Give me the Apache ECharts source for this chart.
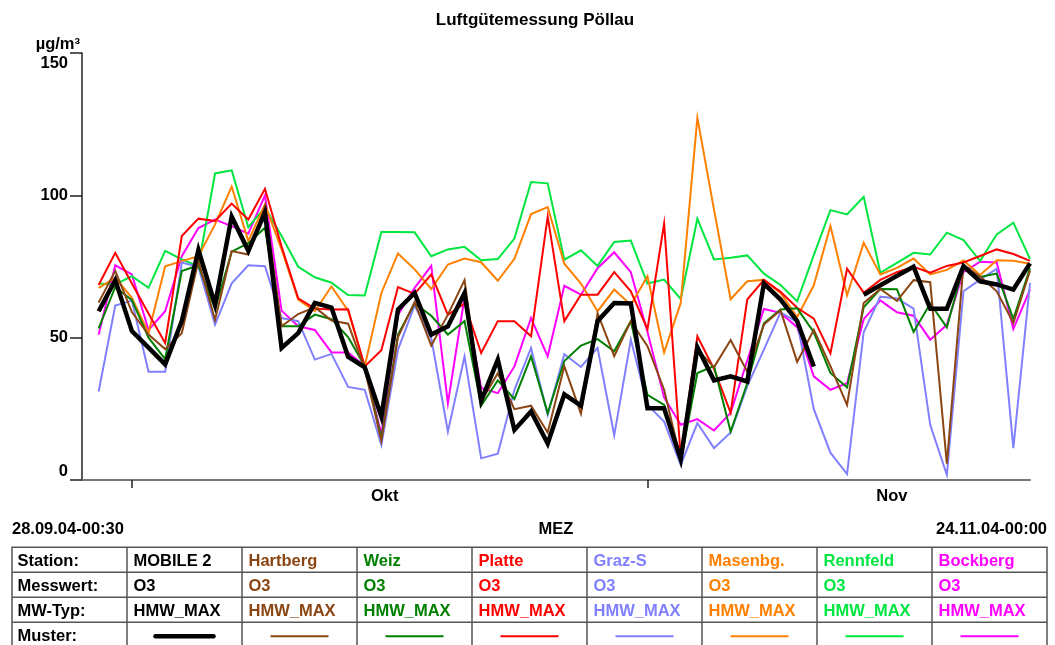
<!DOCTYPE html>
<html>
<head>
<meta charset="utf-8">
<title>Luftgütemessung Pöllau</title>
<script src="https://cdn.jsdelivr.net/npm/echarts@6/dist/echarts.min.js"></script>
<style>
  html, body { margin: 0; padding: 0; background: #ffffff; }
  #chart { width: 1055px; height: 645px; }
</style>
</head>
<body>
<div id="chart"></div>
<script>
// x positions: days counted from 28.09.04 00:00, each daily maximum sits at the end of its day
const dayNo = [1, 2, 3, 4, 5, 6, 7, 8, 9, 10, 11, 12, 13, 14, 15, 16, 17, 18, 19, 20,
  21, 22, 23, 24, 25, 26, 27, 28, 29, 30, 31, 32, 33, 34, 35, 36, 37, 38, 39, 40,
  41, 42, 43, 44, 45, 46, 47, 48, 49, 50, 51, 52, 53, 54, 55, 56, 57];
const monthStartDays = [3, 34];          // 01.10. and 01.11.
const monthLabelDays = [18.2, 48.7];
const monthNames = ['Okt', 'Nov'];
const yMax = 150;
const yStep = 50;

const stations = ['MOBILE 2', 'Hartberg', 'Weiz', 'Platte', 'Graz-S', 'Masenbg.', 'Rennfeld', 'Bockberg'];
const stationColors = ['#000000', '#8B4513', '#008000', '#FF0000', '#8080FF', '#FF8000', '#00E640', '#FF00FF'];
const messwert = 'O3';
const mwTyp = 'HMW_MAX';
const rowLabels = ['Station:', 'Messwert:', 'MW-Typ:', 'Muster:'];

// O3 half-hour maxima per day, µg/m³
const mobile2 = [59.3, 70.2, 52.3, 46.5, 40.6, 55.8, 80.8, 61.6, 92.5, 80.5,
  93.9, 46.4, 51.6, 62.2, 60.6, 43.3, 39.6, 22.3, 59.9, 65.7,
  51.1, 54.0, 65.7, 27.8, 42.3, 17.6, 24.1, 12.8, 30.1, 26.1,
  55.8, 62.2, 62.0, 25.2, 25.2, 7.3, 46.6, 35.0, 36.4, 34.6,
  69.0, 63.4, 55.8, 39.9, null, null, 65.1, 68.4, 71.7, 74.9,
  60.2, 60.2, 75.1, 69.8, 68.7, 66.9, 76.1];
const hartberg = [62.3, 73.5, 59.0, 51.1, 46.0, 51.6, 77.0, 56.3, 80.4, 79.2,
  96.2, 54.0, 58.3, 60.7, 56.0, 54.9, 39.0, 13.8, 50.2, 62.5,
  47.2, 58.1, 70.2, 27.6, 37.5, 24.9, 26.1, 16.7, 40.0, 23.3,
  58.6, 43.5, 55.8, 47.0, 31.7, 7.0, 45.8, 39.6, 49.2, 38.0,
  54.6, 59.6, 41.5, 52.8, 40.0, 26.4, 62.2, 67.1, 62.9, 70.2,
  69.5, 5.7, 75.5, 71.5, 66.3, 55.2, 73.5];
const weiz = [53.3, 67.8, 63.2, 50.0, 42.5, 73.4, 75.4, 60.0, 80.2, 83.2,
  88.6, 54.0, 54.0, 58.1, 56.5, 50.2, 40.0, 14.7, 51.1, 62.0,
  57.7, 51.1, 55.8, 26.1, 35.0, 28.4, 43.4, 23.5, 41.8, 47.2,
  49.5, 45.2, 55.8, 29.9, 26.4, 6.5, 37.6, 40.0, 17.0, 34.0,
  55.0, 59.9, 60.3, 51.9, 37.6, 32.5, 60.7, 67.1, 67.0, 52.0,
  62.0, 53.6, 75.1, 71.3, 72.5, 56.6, 74.4];
const platte = [68.5, 79.8, 69.0, 58.5, 48.1, 85.7, 91.8, 91.0, 97.1, 91.5,
  102.3, 82.0, 63.8, 60.2, 59.9, 60.0, 39.9, 45.6, 67.8, 65.4,
  72.2, 58.0, 62.0, 44.6, 55.8, 55.8, 50.5, 92.5, 55.8, 65.1,
  65.1, 73.0, 66.3, 53.0, 90.1, 8.0, 50.5, 39.0, 23.6, 63.4,
  70.3, 66.1, 60.5, 56.7, 44.5, 74.2, 65.8, 70.3, 73.0, 74.9,
  72.8, 75.2, 76.4, 78.7, 81.0, 79.4, 77.0];
const grazS = [31.1, 61.3, 63.0, 38.0, 38.0, 76.4, 74.8, 54.6, 69.1, 75.4,
  75.1, 56.9, 55.8, 42.3, 44.3, 32.7, 31.7, 12.3, 45.8, 61.3,
  49.9, 17.0, 43.4, 7.6, 9.2, 31.7, 46.4, 22.9, 44.2, 39.7,
  46.4, 15.7, 49.3, 26.4, 20.5, 5.3, 20.0, 11.2, 16.7, 33.0,
  45.8, 58.9, 55.5, 24.9, 9.6, 2.1, 51.9, 64.4, 63.8, 60.2,
  19.4, 1.8, 66.3, 70.4, 74.2, 11.2, 69.2];
const masenbg = [67.5, 71.0, 64.0, 51.6, 75.1, 76.9, 78.6, 89.8, 103.1, 83.9,
  96.8, 81.0, 63.4, 59.3, 68.0, 59.5, 39.9, 65.7, 79.6, 74.0,
  67.1, 75.7, 77.8, 76.5, 70.0, 77.7, 93.4, 95.9, 76.0, 69.0,
  59.3, 66.9, 61.5, 71.6, 44.8, 62.2, 127.3, 95.0, 63.5, 69.8,
  70.3, 65.7, 57.2, 68.4, 89.2, 64.9, 83.3, 72.2, 74.5, 77.8,
  72.2, 73.8, 77.1, 72.0, 77.2, 77.0, 76.0];
const rennfeld = [69.0, 68.7, 71.6, 67.5, 80.5, 77.5, 75.1, 107.7, 108.8, 88.8,
  95.7, 85.7, 74.9, 71.2, 69.3, 65.0, 64.8, 87.1, 87.1, 87.0,
  78.6, 81.0, 81.9, 77.2, 77.6, 84.8, 104.7, 104.2, 77.4, 80.7,
  75.2, 83.6, 84.1, 69.0, 70.4, 63.6, 91.8, 77.5, 78.1, 78.9,
  72.5, 68.5, 62.8, 79.0, 94.8, 93.3, 99.5, 72.8, 76.3, 79.8,
  79.2, 86.9, 84.3, 76.9, 86.3, 90.4, 77.7];
const bockberg = [51.0, 75.4, 72.2, 52.7, 59.3, 78.6, 88.5, 91.5, 89.2, 86.5,
  100.0, 59.5, 54.0, 52.7, 44.8, 44.8, 40.0, 16.0, 58.0, 67.5,
  75.2, 27.0, 64.2, 32.3, 30.5, 39.9, 56.9, 43.4, 68.2, 65.1,
  74.4, 80.0, 73.0, 52.0, 29.0, 19.4, 21.4, 17.4, 23.6, 42.0,
  60.1, 58.7, 53.7, 36.4, 31.7, 34.0, 56.5, 63.1, 58.9, 57.7,
  49.3, 54.5, 73.0, 76.7, 76.4, 53.1, 66.9];

const seriesValues = [mobile2, hartberg, weiz, platte, grazS, masenbg, rennfeld, bockberg];

const FONT = "'Liberation Sans', Arial, Helvetica, sans-serif";
const FS = 16.5;
const AXIS_COLOR = '#222222';

const chart = echarts.init(document.getElementById('chart'), null, { renderer: 'canvas' });

// plot series: the mobile station is drawn last so it stays on top
const series = [];
for (let s = stations.length - 1; s >= 0; s--) {
  series.push({
    name: stations[s],
    type: 'line',
    data: dayNo.map((d, i) => [d, seriesValues[s][i]]),
    showSymbol: false,
    connectNulls: false,
    silent: true,
    z: s === 0 ? 5 : 2,
    lineStyle: {
      color: stationColors[s],
      width: s === 0 ? 4.5 : 2,
      join: 'miter',
      cap: 'butt'
    }
  });
}

// station table underneath the plot
const tableLeft = 12;
const colW = 115;
const tableTop = 547.3;
const rowH = 25;
const nCols = stations.length + 1;
const tableRight = tableLeft + colW * nCols;
const tableBottom = tableTop + rowH * 4;
const gridLine = { stroke: '#555555', lineWidth: 1.5 };
const graphics = [];

graphics.push({ type: 'rect', shape: { x: tableLeft, y: tableTop, width: tableRight - tableLeft, height: tableBottom - tableTop },
  style: { fill: 'none', stroke: '#555555', lineWidth: 1.5 } });
for (let r = 1; r < 4; r++) {
  const y = tableTop + r * rowH;
  graphics.push({ type: 'line', shape: { x1: tableLeft, y1: y, x2: tableRight, y2: y }, style: gridLine });
}
for (let c = 1; c < nCols; c++) {
  const x = tableLeft + c * colW;
  graphics.push({ type: 'line', shape: { x1: x, y1: tableTop, x2: x, y2: tableBottom }, style: gridLine });
}
const cellText = (txt, x, r, color) => ({
  type: 'text', x: x, y: tableTop + r * rowH + 14.5,
  style: { text: txt, fill: color, font: 'bold ' + FS + 'px ' + FONT, textAlign: 'left', textVerticalAlign: 'middle' }
});
rowLabels.forEach((lab, r) => graphics.push(cellText(lab, tableLeft + 5.5, r, '#000000')));
stations.forEach((name, s) => {
  const x0 = tableLeft + (s + 1) * colW;
  const col = stationColors[s];
  graphics.push(cellText(name, x0 + 6.5, 0, col));
  graphics.push(cellText(messwert, x0 + 6.5, 1, col));
  graphics.push(cellText(mwTyp, x0 + 6.5, 2, col));
  const cx = x0 + colW / 2;
  const ly = tableTop + 3 * rowH + 14;
  graphics.push({ type: 'line', shape: { x1: cx - 29, y1: ly, x2: cx + 29, y2: ly },
    style: { stroke: col, lineWidth: s === 0 ? 4.5 : 2, lineCap: s === 0 ? 'round' : 'butt' } });
});

// period and time zone line above the table
const infoY = 529.7;
graphics.push({ type: 'text', x: tableLeft, y: infoY,
  style: { text: '28.09.04-00:30', fill: '#000', font: 'bold ' + FS + 'px ' + FONT, textAlign: 'left', textVerticalAlign: 'middle' } });
graphics.push({ type: 'text', x: 556, y: infoY,
  style: { text: 'MEZ', fill: '#000', font: 'bold ' + FS + 'px ' + FONT, textAlign: 'center', textVerticalAlign: 'middle' } });
graphics.push({ type: 'text', x: 1047, y: infoY,
  style: { text: '24.11.04-00:00', fill: '#000', font: 'bold ' + FS + 'px ' + FONT, textAlign: 'right', textVerticalAlign: 'middle' } });

const option = {
  animation: false,
  backgroundColor: '#ffffff',
  title: {
    text: 'Luftgütemessung Pöllau',
    left: 530,
    textAlign: 'center',
    top: 7,
    textStyle: { fontFamily: FONT, fontWeight: 'bold', fontSize: 17, color: '#000' }
  },
  grid: { left: 82, right: 25, top: 53, bottom: 165, containLabel: false },
  xAxis: {
    type: 'value',
    min: 0,
    max: 57,
    splitLine: { show: false },
    axisLine: { show: true, onZero: false, lineStyle: { color: '#777777', width: 2 } },
    axisTick: { show: true, customValues: monthStartDays, length: 8, lineStyle: { color: AXIS_COLOR, width: 1.5 } },
    axisLabel: {
      show: true,
      customValues: monthLabelDays,
      margin: 8,
      formatter: (v) => monthNames[monthLabelDays.indexOf(v)] || '',
      fontFamily: FONT, fontWeight: 'bold', fontSize: FS, color: '#000'
    }
  },
  yAxis: {
    type: 'value',
    min: 0,
    max: yMax,
    interval: yStep,
    name: 'µg/m³',
    nameLocation: 'end',
    nameGap: 9,
    nameTextStyle: { fontFamily: FONT, fontWeight: 'bold', fontSize: FS, color: '#000', align: 'right', verticalAlign: 'middle', padding: [0, 2, 0, 0] },
    splitLine: { show: false },
    axisLine: { show: true, lineStyle: { color: AXIS_COLOR, width: 1.5 } },
    axisTick: { show: true, length: 12, lineStyle: { color: AXIS_COLOR, width: 1.5 } },
    axisLabel: {
      margin: 14,
      fontFamily: FONT, fontWeight: 'bold', fontSize: FS, color: '#000',
      formatter: (v) => v === yMax ? '{top|' + v + '}' : (v === 0 ? '{bot|' + v + '}' : String(v)),
      rich: {
        top: { fontFamily: FONT, fontWeight: 'bold', fontSize: FS, color: '#000', padding: [20, 0, 0, 0] },
        bot: { fontFamily: FONT, fontWeight: 'bold', fontSize: FS, color: '#000', padding: [0, 0, 18, 0] }
      }
    }
  },
  series: series,
  graphic: graphics
};

chart.setOption(option);
</script>
</body>
</html>
